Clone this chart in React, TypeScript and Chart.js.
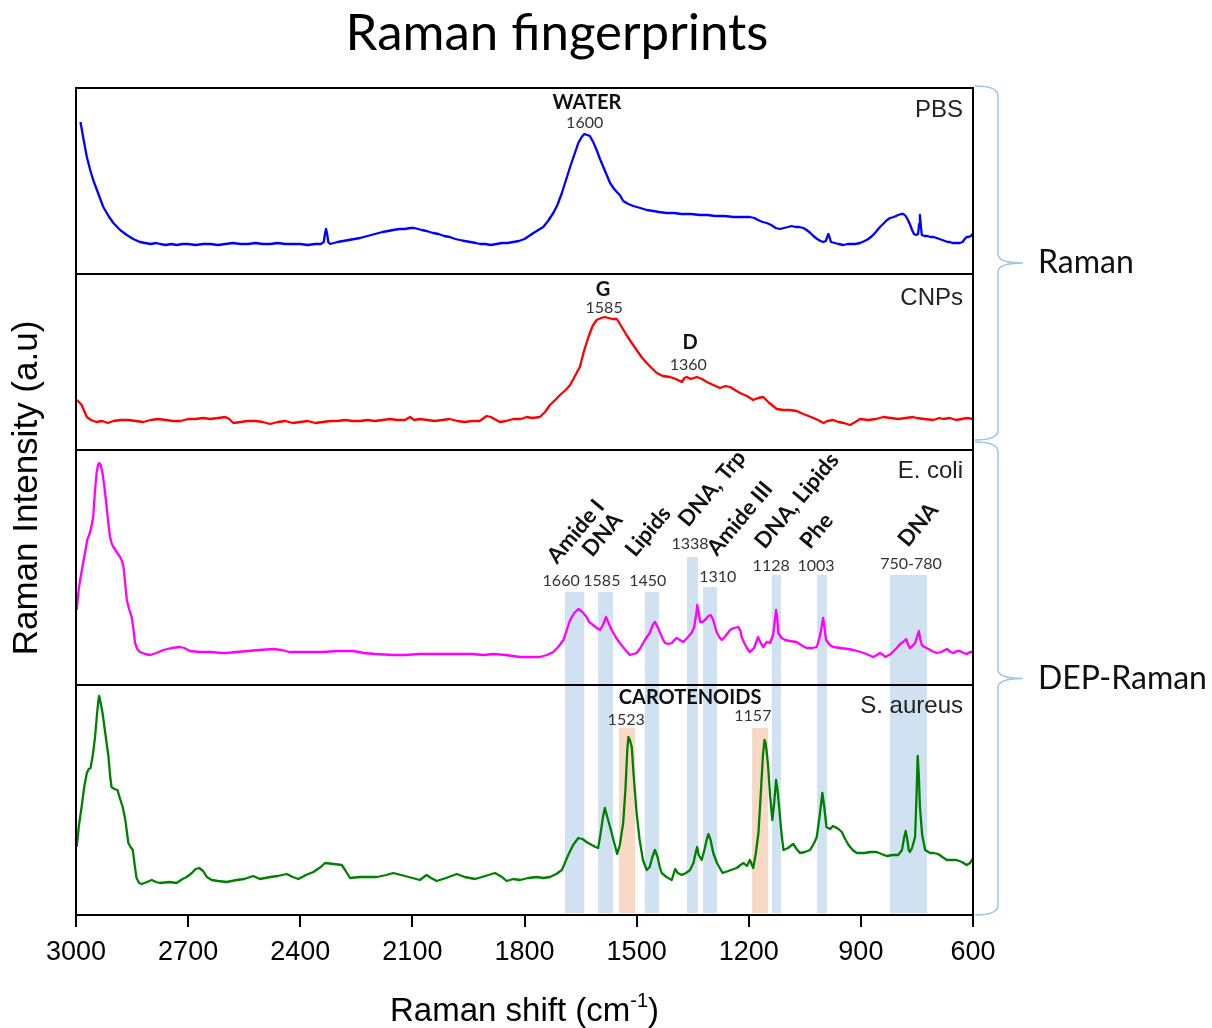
import React, { useEffect, useRef } from 'react';
import { Chart, registerables } from 'chart.js';

Chart.register(...registerables);

// ---------------- DATA ----------------
const chartTitle = 'Raman fingerprints';
const xAxisTitle = 'Raman shift (cm';
const xAxisTitleSup = '-1';
const yAxisTitle = 'Raman Intensity (a.u)';
const xTickValues = [3000, 2700, 2400, 2100, 1800, 1500, 1200, 900, 600];
const panelNames = ['PBS', 'CNPs', 'E. coli', 'S. aureus'];
const panelMax = [186, 176, 235, 230];
const groupNames = ['Raman', 'DEP-Raman'];

// [Raman shift (cm-1), intensity (a.u.)]
const pbsSpectrum: [number, number][] = [
  [2988, 152], [2980, 135], [2971, 117], [2962, 104], [2954, 94], [2940, 80], [2927, 67], [2913, 58], [2900, 51],
  [2882, 44], [2864, 39], [2847, 35], [2829, 32], [2815, 31], [2800, 30], [2785, 31], [2775, 30], [2760, 29],
  [2745, 30], [2731, 29], [2715, 30], [2700, 30], [2680, 29], [2660, 30], [2640, 30], [2620, 29], [2600, 30],
  [2580, 31], [2560, 30], [2540, 30], [2520, 31], [2500, 30], [2480, 30], [2460, 31], [2440, 30], [2420, 30],
  [2400, 30], [2380, 29], [2360, 30], [2345, 30], [2337, 32], [2334, 40], [2331, 45], [2328, 40], [2325, 32],
  [2320, 30], [2310, 31], [2300, 32], [2285, 33], [2270, 34], [2255, 35], [2240, 36], [2220, 38], [2200, 40],
  [2180, 42], [2165, 43], [2151, 44], [2135, 45], [2120, 45], [2106, 46], [2095, 46], [2085, 45], [2075, 44],
  [2062, 43], [2045, 41], [2030, 40], [2015, 38], [2000, 37], [1985, 35], [1973, 34], [1960, 33], [1945, 32],
  [1930, 31], [1919, 30], [1905, 30], [1890, 29], [1875, 30], [1860, 31], [1845, 31], [1830, 32], [1815, 33],
  [1800, 35], [1788, 38], [1776, 41], [1763, 44], [1750, 47], [1737, 53], [1723, 61], [1712, 69], [1700, 81],
  [1689, 94], [1678, 107], [1667, 119], [1656, 131], [1647, 137], [1640, 140], [1632, 139], [1625, 138],
  [1615, 131], [1607, 124], [1598, 115], [1589, 107], [1580, 99], [1571, 91], [1562, 86], [1553, 82], [1545, 79],
  [1536, 73], [1522, 70], [1509, 68], [1490, 66], [1473, 64], [1455, 63], [1440, 62], [1420, 61], [1400, 61],
  [1380, 60], [1355, 60], [1330, 59], [1310, 59], [1290, 58], [1265, 58], [1241, 57], [1220, 57], [1197, 57],
  [1185, 56], [1175, 54], [1163, 52], [1152, 51], [1140, 49], [1128, 46], [1116, 45], [1106, 46], [1095, 47],
  [1085, 48], [1075, 47], [1065, 47], [1054, 46], [1045, 44], [1035, 41], [1027, 38], [1017, 35], [1008, 33],
  [1000, 32], [994, 33], [990, 37], [987, 40], [984, 37], [980, 32], [970, 31], [960, 30], [947, 29], [935, 30],
  [925, 30], [915, 30], [902, 31], [890, 33], [880, 35], [870, 38], [860, 42], [849, 47], [838, 51], [830, 54],
  [822, 56], [812, 57], [800, 59], [792, 60], [786, 60], [780, 58], [774, 54], [768, 49], [763, 44], [758, 40],
  [752, 39], [747, 40], [744, 50], [742, 59], [740, 50], [737, 39], [730, 38], [722, 38], [714, 37], [706, 37],
  [697, 36], [690, 35], [682, 34], [675, 33], [668, 32], [662, 32], [655, 31], [648, 31], [641, 31], [635, 31],
  [628, 32], [622, 35], [617, 37], [612, 37], [606, 38], [601, 40],
];

const cnpSpectrum: [number, number][] = [
  [2998, 50], [2992, 48], [2985, 45], [2978, 39], [2971, 33], [2960, 30], [2945, 28], [2930, 29], [2915, 27],
  [2900, 29], [2880, 30], [2860, 30], [2840, 29], [2820, 28], [2800, 30], [2780, 31], [2760, 30], [2740, 29],
  [2720, 29], [2700, 31], [2680, 31], [2660, 32], [2640, 31], [2620, 32], [2600, 33], [2590, 31], [2579, 27],
  [2560, 28], [2540, 29], [2520, 29], [2500, 28], [2481, 26], [2460, 28], [2440, 29], [2420, 27], [2400, 28],
  [2380, 29], [2360, 27], [2340, 28], [2320, 29], [2300, 29], [2280, 30], [2260, 29], [2240, 29], [2220, 30],
  [2200, 29], [2180, 30], [2160, 31], [2140, 30], [2120, 30], [2106, 33], [2095, 30], [2080, 31], [2060, 30],
  [2040, 29], [2020, 30], [2000, 31], [1980, 29], [1960, 28], [1940, 29], [1920, 29], [1901, 34], [1890, 33],
  [1866, 28], [1850, 29], [1830, 31], [1810, 31], [1794, 33], [1780, 32], [1759, 33], [1745, 38], [1732, 45],
  [1718, 50], [1705, 55], [1690, 60], [1678, 65], [1665, 74], [1652, 83], [1640, 100], [1629, 113], [1618, 124],
  [1607, 130], [1595, 132], [1585, 133], [1575, 132], [1565, 131], [1553, 131], [1540, 123], [1527, 115],
  [1513, 107], [1500, 100], [1487, 93], [1473, 87], [1460, 82], [1446, 77], [1430, 74], [1411, 73], [1395, 71],
  [1379, 68], [1372, 72], [1366, 73], [1355, 71], [1339, 73], [1325, 71], [1312, 68], [1295, 65], [1277, 62],
  [1262, 64], [1250, 63], [1237, 60], [1223, 57], [1205, 54], [1188, 50], [1175, 52], [1161, 53], [1145, 47],
  [1125, 41], [1107, 40], [1090, 40], [1072, 39], [1054, 36], [1040, 34], [1027, 32], [1015, 30], [1000, 27],
  [990, 29], [974, 30], [960, 28], [945, 27], [929, 25], [915, 28], [902, 31], [880, 30], [860, 31], [840, 33],
  [820, 32], [800, 31], [780, 32], [760, 33], [751, 32], [730, 31], [706, 30], [690, 32], [680, 31], [662, 32],
  [645, 30], [630, 31], [615, 32], [601, 31],
];

const ecoliSpectrum: [number, number][] = [
  [2998, 75], [2993, 95], [2989, 105], [2982, 120], [2976, 132], [2970, 145], [2963, 152], [2958, 160],
  [2954, 168], [2950, 190], [2945, 212], [2941, 220], [2938, 222], [2934, 220], [2929, 212], [2924, 198],
  [2918, 178], [2913, 160], [2909, 148], [2904, 141], [2900, 138], [2891, 133], [2882, 128], [2877, 124],
  [2873, 118], [2868, 100], [2864, 85], [2858, 76], [2851, 68], [2846, 55], [2842, 42], [2836, 36], [2829, 33],
  [2815, 31], [2802, 30], [2785, 32], [2766, 35], [2745, 37], [2722, 38], [2710, 37], [2695, 34], [2670, 33],
  [2640, 33], [2610, 32], [2597, 32], [2570, 33], [2540, 34], [2510, 35], [2472, 36], [2450, 35], [2430, 33],
  [2401, 33], [2370, 33], [2340, 33], [2300, 34], [2258, 34], [2230, 32], [2200, 31], [2151, 30], [2120, 30],
  [2080, 31], [2040, 31], [2000, 31], [1973, 31], [1940, 31], [1910, 30], [1883, 31], [1850, 30], [1812, 28],
  [1780, 28], [1759, 28], [1740, 30], [1723, 33], [1710, 38], [1696, 45], [1687, 55], [1678, 65], [1667, 72],
  [1656, 76], [1645, 73], [1634, 68], [1627, 63], [1620, 61], [1610, 58], [1598, 55], [1590, 60], [1582, 68],
  [1575, 62], [1567, 55], [1556, 48], [1545, 42], [1530, 35], [1518, 30], [1500, 32], [1490, 37], [1478, 45],
  [1465, 52], [1457, 60], [1451, 63], [1444, 58], [1437, 52], [1430, 46], [1424, 42], [1415, 41], [1406, 42],
  [1399, 45], [1393, 47], [1384, 45], [1375, 43], [1365, 47], [1353, 52], [1346, 58], [1340, 72], [1338, 80],
  [1335, 75], [1330, 63], [1324, 63], [1317, 65], [1308, 69], [1302, 70], [1296, 66], [1286, 53], [1279, 48],
  [1272, 45], [1262, 49], [1250, 55], [1240, 57], [1228, 58], [1222, 54], [1219, 48], [1212, 42], [1205, 37],
  [1197, 33], [1186, 37], [1175, 48], [1168, 42], [1161, 38], [1152, 43], [1143, 42], [1135, 50], [1130, 65],
  [1127, 75], [1124, 68], [1121, 52], [1112, 47], [1103, 45], [1090, 44], [1072, 43], [1060, 40], [1045, 37],
  [1030, 37], [1018, 38], [1011, 47], [1005, 58], [1001, 67], [997, 56], [993, 45], [983, 40], [974, 38],
  [955, 37], [935, 36], [920, 35], [900, 33], [885, 31], [867, 28], [857, 30], [849, 32], [840, 30], [835, 28],
  [820, 31], [804, 37], [795, 41], [787, 43], [779, 46], [773, 40], [769, 37], [762, 39], [755, 42], [750, 48],
  [745, 54], [741, 46], [737, 40], [730, 38], [724, 37], [710, 34], [697, 32], [685, 33], [670, 36], [660, 33],
  [652, 32], [643, 34], [635, 34], [625, 32], [617, 31], [608, 33], [601, 33],
];

const saureusSpectrum: [number, number][] = [
  [2998, 68], [2992, 90], [2985, 108], [2978, 128], [2971, 142], [2966, 146], [2961, 147], [2955, 160],
  [2949, 178], [2944, 200], [2940, 215], [2938, 219], [2934, 212], [2929, 202], [2921, 180], [2913, 158],
  [2909, 140], [2905, 128], [2897, 126], [2889, 125], [2882, 116], [2875, 108], [2868, 95], [2860, 72],
  [2854, 68], [2848, 65], [2843, 50], [2838, 37], [2831, 32], [2824, 31], [2810, 33], [2797, 35], [2786, 33],
  [2775, 32], [2750, 33], [2731, 32], [2715, 36], [2704, 38], [2690, 42], [2680, 46], [2670, 47], [2660, 44],
  [2650, 38], [2637, 35], [2620, 34], [2597, 33], [2570, 35], [2550, 36], [2526, 39], [2508, 36], [2480, 38],
  [2460, 39], [2436, 41], [2420, 38], [2405, 36], [2385, 40], [2365, 43], [2345, 48], [2334, 52], [2310, 51],
  [2289, 50], [2280, 45], [2267, 37], [2240, 38], [2210, 38], [2195, 38], [2170, 40], [2151, 42], [2120, 39],
  [2100, 37], [2080, 35], [2062, 40], [2050, 37], [2035, 34], [2010, 37], [1981, 41], [1960, 38], [1932, 36],
  [1905, 39], [1879, 42], [1860, 38], [1848, 34], [1830, 36], [1812, 35], [1790, 37], [1767, 38], [1750, 37],
  [1732, 38], [1715, 41], [1700, 45], [1692, 52], [1683, 60], [1670, 70], [1656, 77], [1645, 76], [1634, 73],
  [1620, 70], [1610, 68], [1603, 67], [1597, 80], [1590, 98], [1585, 107], [1580, 100], [1571, 88], [1562, 75],
  [1552, 61], [1545, 70], [1536, 92], [1530, 125], [1525, 165], [1522, 178], [1518, 175], [1513, 168],
  [1508, 140], [1500, 102], [1492, 75], [1483, 55], [1473, 45], [1465, 48], [1458, 58], [1451, 65], [1444, 58],
  [1438, 48], [1433, 42], [1420, 38], [1406, 35], [1397, 46], [1390, 42], [1379, 40], [1368, 42], [1357, 45],
  [1348, 52], [1341, 64], [1338, 68], [1334, 60], [1326, 55], [1318, 66], [1312, 76], [1308, 81], [1302, 75],
  [1295, 62], [1285, 52], [1270, 42], [1255, 44], [1240, 46], [1232, 47], [1222, 50], [1214, 52], [1205, 49],
  [1197, 55], [1188, 47], [1181, 62], [1174, 82], [1168, 120], [1162, 160], [1158, 175], [1155, 172],
  [1151, 160], [1148, 148], [1143, 120], [1137, 95], [1132, 112], [1127, 135], [1123, 125], [1118, 105],
  [1112, 80], [1107, 65], [1095, 67], [1081, 71], [1072, 66], [1063, 62], [1050, 63], [1036, 65], [1025, 72],
  [1018, 78], [1010, 100], [1003, 122], [998, 108], [992, 88], [982, 86], [975, 89], [969, 88], [960, 86],
  [951, 83], [942, 76], [933, 70], [922, 65], [911, 62], [890, 62], [875, 63], [858, 63], [845, 61], [831, 59],
  [815, 60], [800, 60], [790, 65], [784, 78], [780, 84], [776, 76], [772, 65], [769, 63], [763, 67], [758, 74],
  [755, 78], [751, 120], [748, 159], [745, 140], [742, 108], [736, 80], [728, 65], [715, 62], [705, 62],
  [693, 61], [682, 58], [670, 55], [656, 55], [644, 55], [630, 53], [617, 50], [608, 52], [601, 56],
];

// Shaded assignment bands, [low shift, high shift]
const assignmentBands: [number, number][] = [
  [1640, 1692], [1563, 1603], [1440, 1478], [1336, 1365], [1285, 1322], [1114, 1138], [991, 1017], [723, 822],
];
const carotenoidBands: [number, number][] = [[1504, 1547], [1148, 1191]];

// ---------------- LAYOUT / STYLE ----------------
const PANEL_KEYS = ['yPbs', 'yCnp', 'yEcoli', 'ySaureus'];
const SERIES_COLORS = ['#0000ff', '#ff0000', '#ff00ff', '#008000'];
const SANS = '"Liberation Sans", Arial, sans-serif';
const LATO = 'Lato, "Open Sans", sans-serif';
const BAND_BLUE = '#d0e1f1';
const BAND_ORANGE = '#f8d9c6';
const BRACE_COLOR = '#9dc3e6';

// tops of blue bands (level in E. coli panel), bottom level in S. aureus panel
const assignmentBandTops = [93, 93, 93, 128, 98, 110, 110, 110];
const carotenoidBandTop = 187;
const bandFloor = 2;

const panelNameOffsets = [22, 24, 21, 21];

// bold peak titles: panel index, shift, level
const peakTitles = [
  { panel: 0, shift: 1633, level: 171, text: 'WATER' },
  { panel: 1, shift: 1590, level: 160, text: 'G' },
  { panel: 1, shift: 1357, level: 107, text: 'D' },
  { panel: 3, shift: 1357, level: 217, text: 'CAROTENOIDS' },
];
const peakNumbers = [
  { panel: 0, shift: 1639, level: 151, text: '1600' },
  { panel: 1, shift: 1587, level: 142, text: '1585' },
  { panel: 1, shift: 1362, level: 85, text: '1360' },
  { panel: 2, shift: 1702, level: 104, text: '1660' },
  { panel: 2, shift: 1593, level: 104, text: '1585' },
  { panel: 2, shift: 1470, level: 104, text: '1450' },
  { panel: 2, shift: 1357, level: 141, text: '1338' },
  { panel: 2, shift: 1283, level: 108, text: '1310' },
  { panel: 2, shift: 1140, level: 119, text: '1128' },
  { panel: 2, shift: 1020, level: 119, text: '1003' },
  { panel: 2, shift: 766, level: 121, text: '750-780' },
  { panel: 3, shift: 1528, level: 195, text: '1523' },
  { panel: 3, shift: 1189, level: 199, text: '1157' },
];
// rotated assignment labels in the E. coli panel (baseline start)
const assignmentLabels = [
  { shift: 1713, level: 120, text: 'Amide I' },
  { shift: 1619, level: 127, text: 'DNA' },
  { shift: 1504, level: 127, text: 'Lipids' },
  { shift: 1362, level: 157, text: 'DNA, Trp' },
  { shift: 1285, level: 128, text: 'Amide III' },
  { shift: 1157, level: 135, text: 'DNA, Lipids' },
  { shift: 1036, level: 135, text: 'Phe' },
  { shift: 774, level: 137, text: 'DNA' },
];

const decorPlugin = {
  id: 'ramanDecor',
  beforeDatasetsDraw(chart: any) {
    const { ctx, scales } = chart;
    const x = scales.x;
    const yE = scales.yEcoli;
    const yS = scales.ySaureus;
    ctx.save();
    ctx.fillStyle = BAND_BLUE;
    assignmentBands.forEach(([lo, hi], i) => {
      const l = x.getPixelForValue(hi);
      const r = x.getPixelForValue(lo);
      const t = yE.getPixelForValue(assignmentBandTops[i]);
      const b = yS.getPixelForValue(bandFloor);
      ctx.fillRect(l, t, r - l, b - t);
    });
    ctx.fillStyle = BAND_ORANGE;
    carotenoidBands.forEach(([lo, hi]) => {
      const l = x.getPixelForValue(hi);
      const r = x.getPixelForValue(lo);
      const t = yS.getPixelForValue(carotenoidBandTop);
      const b = yS.getPixelForValue(bandFloor);
      ctx.fillRect(l, t, r - l, b - t);
    });
    ctx.restore();
  },
  afterDatasetsDraw(chart: any) {
    const { ctx, scales, chartArea } = chart;
    const x = scales.x;
    ctx.save();
    // panel frames
    ctx.strokeStyle = '#000';
    ctx.lineWidth = 2;
    PANEL_KEYS.forEach((k) => {
      const s = scales[k];
      ctx.strokeRect(chartArea.left, s.top, chartArea.right - chartArea.left, s.bottom - s.top);
    });
    // panel names
    ctx.fillStyle = '#222';
    ctx.font = `24px ${SANS}`;
    ctx.textAlign = 'right';
    ctx.textBaseline = 'middle';
    panelNames.forEach((n, i) => {
      const s = scales[PANEL_KEYS[i]];
      ctx.fillText(n, chartArea.right - 10, s.top + panelNameOffsets[i]);
    });
    // peak titles
    ctx.textAlign = 'center';
    ctx.fillStyle = '#111';
    ctx.font = `bold 20px ${LATO}`;
    peakTitles.forEach((p) => {
      const s = scales[PANEL_KEYS[p.panel]];
      ctx.fillText(p.text, x.getPixelForValue(p.shift), s.getPixelForValue(p.level));
    });
    ctx.fillStyle = '#333';
    ctx.font = `16px ${LATO}`;
    peakNumbers.forEach((p) => {
      const s = scales[PANEL_KEYS[p.panel]];
      ctx.fillText(p.text, x.getPixelForValue(p.shift), s.getPixelForValue(p.level));
    });
    // rotated assignment labels
    ctx.fillStyle = '#111';
    ctx.font = `bold 22px ${LATO}`;
    ctx.textAlign = 'left';
    ctx.textBaseline = 'alphabetic';
    const yE = scales.yEcoli;
    assignmentLabels.forEach((a) => {
      ctx.save();
      ctx.translate(x.getPixelForValue(a.shift), yE.getPixelForValue(a.level));
      ctx.rotate((-50 * Math.PI) / 180);
      ctx.fillText(a.text, 0, 0);
      ctx.restore();
    });
    ctx.restore();
  },
  afterDraw(chart: any) {
    const { ctx, scales, chartArea } = chart;
    ctx.save();
    // title
    ctx.fillStyle = '#000';
    ctx.font = `51px ${LATO}`;
    ctx.textAlign = 'center';
    ctx.textBaseline = 'alphabetic';
    ctx.fillText(chartTitle, 557, 50);
    // x title with superscript
    ctx.font = `33px ${SANS}`;
    const w1 = ctx.measureText(xAxisTitle).width;
    const w3 = ctx.measureText(')').width;
    ctx.font = `20px ${SANS}`;
    const w2 = ctx.measureText(xAxisTitleSup).width;
    const cx = (chartArea.left + chartArea.right) / 2;
    const sx = cx - (w1 + w2 + w3) / 2;
    ctx.textAlign = 'left';
    ctx.font = `33px ${SANS}`;
    ctx.fillText(xAxisTitle, sx, 1021);
    ctx.font = `20px ${SANS}`;
    ctx.fillText(xAxisTitleSup, sx + w1, 1007);
    ctx.font = `33px ${SANS}`;
    ctx.fillText(')', sx + w1 + w2, 1021);
    // y title
    ctx.save();
    ctx.translate(27, 488);
    ctx.rotate(-Math.PI / 2);
    ctx.textAlign = 'center';
    ctx.textBaseline = 'middle';
    ctx.font = `35px ${SANS}`;
    ctx.fillText(yAxisTitle, 0, 0);
    ctx.restore();
    // braces
    const groups = [
      { top: scales.yPbs.top - 2, bottom: scales.yCnp.bottom - 10 },
      { top: scales.yEcoli.top - 8, bottom: scales.ySaureus.bottom },
    ];
    const x0 = chartArea.right + 2;
    const xs = 998;
    const xt = 1023;
    ctx.strokeStyle = BRACE_COLOR;
    ctx.lineWidth = 1.5;
    groups.forEach((g, i) => {
      const mid = (g.top + g.bottom) / 2;
      ctx.beginPath();
      ctx.moveTo(x0, g.top);
      ctx.quadraticCurveTo(xs, g.top, xs, g.top + 10);
      ctx.lineTo(xs, mid - 9);
      ctx.quadraticCurveTo(xs, mid, xt, mid);
      ctx.quadraticCurveTo(xs, mid, xs, mid + 9);
      ctx.lineTo(xs, g.bottom - 10);
      ctx.quadraticCurveTo(xs, g.bottom, x0, g.bottom);
      ctx.stroke();
      ctx.fillStyle = '#111';
      ctx.font = `32px ${LATO}`;
      ctx.textAlign = 'left';
      ctx.textBaseline = 'middle';
      ctx.fillText(groupNames[i], 1038, mid);
    });
    ctx.restore();
  },
};

const spectra = [pbsSpectrum, cnpSpectrum, ecoliSpectrum, saureusSpectrum];

export default function App() {
  const ref = useRef<HTMLCanvasElement>(null);
  useEffect(() => {
    const canvas = ref.current;
    if (!canvas) return;
    const scales: any = {
      x: {
        type: 'linear',
        position: 'bottom',
        min: 600,
        max: 3000,
        reverse: true,
        afterBuildTicks: (s: any) => {
          s.ticks = xTickValues.map((v) => ({ value: v }));
        },
        afterFit: (s: any) => {
          s.height = 113;
        },
        ticks: {
          font: { family: SANS, size: 27 },
          color: '#000',
          padding: 9,
          maxRotation: 0,
          autoSkip: false,
          callback: (v: any) => String(v),
        },
        grid: { drawOnChartArea: false, drawTicks: true, tickLength: 12, color: '#000', lineWidth: 2 },
        border: { display: true, color: '#000', width: 2 },
      },
    };
    PANEL_KEYS.forEach((k, i) => {
      scales[k] = {
        type: 'linear',
        display: false,
        position: 'left',
        stack: 'panels',
        stackWeight: panelMax[i],
        weight: PANEL_KEYS.length - i,
        min: 0,
        max: panelMax[i],
      };
    });
    const chart = new Chart(canvas, {
      type: 'line',
      data: {
        datasets: spectra.map((sp, i) => ({
          label: panelNames[i],
          data: sp.map(([x, y]) => ({ x, y })),
          borderColor: SERIES_COLORS[i],
          backgroundColor: SERIES_COLORS[i],
          borderWidth: 2.3,
          pointRadius: 0,
          tension: 0,
          fill: false,
          borderJoinStyle: 'round',
          yAxisID: PANEL_KEYS[i],
          xAxisID: 'x',
        })),
      },
      options: {
        responsive: false,
        animation: false,
        devicePixelRatio: 1,
        layout: { padding: { left: 76, right: 239, top: 88, bottom: 0 } },
        plugins: {
          legend: { display: false },
          tooltip: { enabled: false },
          title: { display: false },
        },
        events: [],
        scales,
      } as any,
      plugins: [decorPlugin],
    });
    return () => chart.destroy();
  }, []);
  return (
    <div style={{ position: 'absolute', left: 0, top: 0, width: 1212, height: 1028, background: '#fff' }}>
      <canvas ref={ref} width={1212} height={1028} style={{ display: 'block' }} />
    </div>
  );
}
